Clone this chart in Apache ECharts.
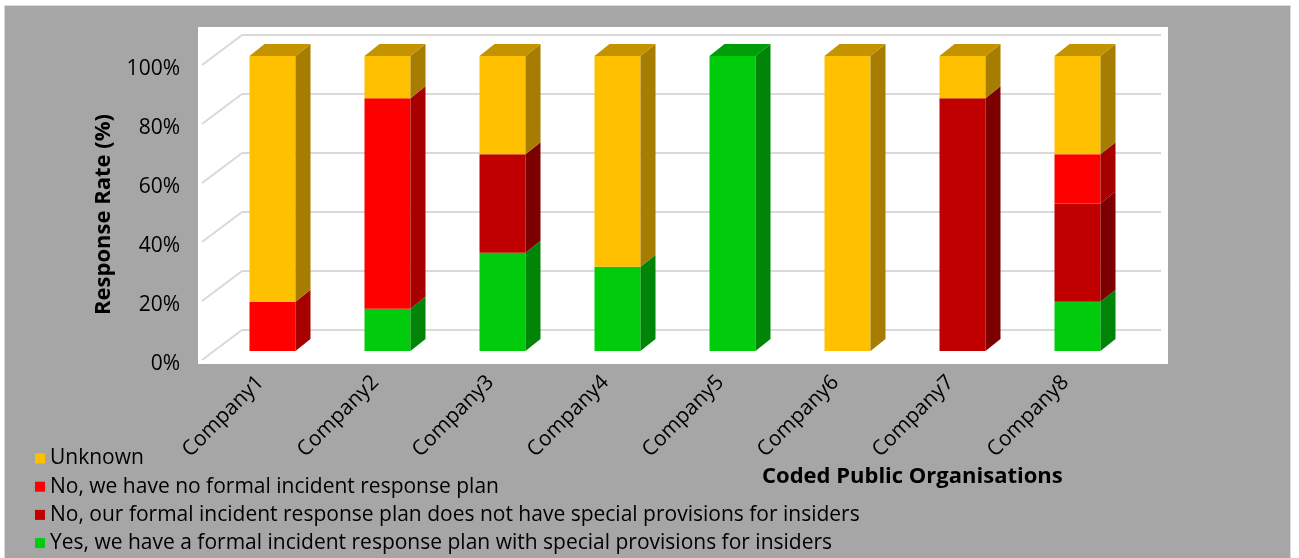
<!DOCTYPE html>
<html>
<head>
<meta charset="utf-8">
<script src="https://cdn.jsdelivr.net/npm/echarts@6/dist/echarts.min.js"></script>
<style>
  html, body { margin: 0; padding: 0; background: #fff; }
  #chart { width: 1299px; height: 558px; }
</style>
</head>
<body>
<div id="chart"></div>
<script>
const companies = ["Company1", "Company2", "Company3", "Company4", "Company5", "Company6", "Company7", "Company8"];
// stacked bottom -> top
const yesSpecial = [0, 14.29, 33.33, 28.57, 100, 0, 0, 16.67];
const noSpecial = [0, 0, 33.33, 0, 0, 0, 85.71, 33.33];
const noPlan = [16.67, 71.43, 0, 0, 0, 0, 0, 16.67];
const unknown = [83.33, 14.29, 33.33, 71.43, 0, 100, 14.29, 33.33];
const yTicks = [0, 20, 40, 60, 80, 100];

const seriesDefs = [
  { name: "Yes, we have a formal incident response plan with special provisions for insiders", values: yesSpecial, color: "#00cc0c" },
  { name: "No, our formal incident response plan does not have special provisions for insiders", values: noSpecial, color: "#c00000" },
  { name: "No, we have no formal incident response plan", values: noPlan, color: "#ff0000" },
  { name: "Unknown", values: unknown, color: "#ffc000" },
];
const legendOrder = [3, 2, 1, 0].map((i) => seriesDefs[i].name);

const font = "'Open Sans', 'Noto Sans', sans-serif";
const fs = 21;
const DX = 15, DY = 12;

function shade(hex, f) {
  const n = parseInt(hex.slice(1), 16);
  const r = Math.round(((n >> 16) & 255) * f);
  const g = Math.round(((n >> 8) & 255) * f);
  const b = Math.round((n & 255) * f);
  return `rgb(${r},${g},${b})`;
}

// running base for stacking
const base = companies.map(() => 0);
const barSeries = seriesDefs.map((def) => {
  const data = def.values.map((v, i) => {
    const lo = base[i];
    base[i] += v;
    return [i, lo, base[i]];
  });
  return {
    type: "custom",
    name: def.name,
    itemStyle: { color: def.color },
    data,
    encode: { x: 0, y: [1, 2] },
    renderItem: (params, api) => {
      const i = api.value(0), lo = api.value(1), hi = api.value(2);
      if (hi - lo <= 0.001) return;
      const band = api.size([1, 0])[0];
      const w = band * 0.4;
      const pLo = api.coord([i, lo]);
      const pHi = api.coord([i, hi]);
      const x0 = pLo[0] - w / 2, x1 = pLo[0] + w / 2;
      const children = [
        { type: "rect", shape: { x: x0, y: pHi[1], width: w, height: pLo[1] - pHi[1] }, style: { fill: def.color } },
        { type: "polygon", shape: { points: [[x1, pLo[1]], [x1, pHi[1]], [x1 + DX, pHi[1] - DY], [x1 + DX, pLo[1] - DY]] }, style: { fill: shade(def.color, 0.65) } },
      ];
      if (hi >= 99.9) {
        children.push({ type: "polygon", shape: { points: [[x0, pHi[1]], [x1, pHi[1]], [x1 + DX, pHi[1] - DY], [x0 + DX, pHi[1] - DY]] }, style: { fill: shade(def.color, 0.77) } });
      }
      return { type: "group", children };
    },
  };
});

const wallSeries = {
  type: "custom",
  name: "walls",
  silent: true,
  data: yTicks.map((v) => [0, v]),
  renderItem: (params, api) => {
    const v = api.value(1);
    const band = api.size([1, 0])[0];
    const p = api.coord([0, v]);
    const pEnd = api.coord([companies.length - 1, v]);
    const yBack = p[1] - 21;
    const xBack = p[0] - band * 0.265;
    const xRight = pEnd[0] + band * 0.726;
    const style = { stroke: "#d9d9d9", lineWidth: 2 };
    return {
      type: "group",
      children: [
        { type: "line", shape: { x1: xBack - 40, y1: yBack + 30, x2: xBack, y2: yBack }, style },
        { type: "line", shape: { x1: xBack, y1: yBack, x2: xRight, y2: yBack }, style },
      ],
    };
  },
};

const chart = echarts.init(document.getElementById("chart"));
chart.setOption({
  backgroundColor: "#fff",
  animation: false,
  textStyle: { fontFamily: font },
  graphic: [
    { type: "rect", z: -10, shape: { x: 4.5, y: 5.5, width: 1286, height: 560 }, style: { fill: "#a6a6a6", stroke: "#d9d9d9", lineWidth: 1 } },
    { type: "rect", z: -9, shape: { x: 198, y: 27, width: 970, height: 337 }, style: { fill: "#fff" } },
  ],
  title: {
    text: "Coded Public Organisations",
    left: 762,
    top: 466,
    padding: 0,
    textStyle: { fontFamily: font, fontSize: 22, fontWeight: "bold", color: "#000" },
  },
  legend: {
    data: legendOrder,
    orient: "vertical",
    left: 35,
    top: 448,
    padding: 0,
    itemGap: 7.2,
    itemWidth: 10,
    itemHeight: 10,
    icon: "rect",
    selectedMode: false,
    textStyle: { fontFamily: font, fontSize: fs, lineHeight: 20, color: "#000" },
  },
  grid: { left: 215, width: 920, top: 56, height: 295 },
  xAxis: {
    type: "category",
    data: companies,
    axisLine: { show: false },
    axisTick: { show: false },
    axisLabel: {
      interval: 0,
      rotate: 45,
      margin: 16,
      fontFamily: font,
      fontSize: fs,
      color: "#000",
      formatter: (v) => `{n|${v}}{s|}`,
      rich: { n: { fontFamily: font, fontSize: fs, color: "#000" }, s: { width: 17 } },
    },
  },
  yAxis: {
    type: "value",
    min: 0,
    max: 100,
    interval: 20,
    name: "{t|Response Rate (%)}{s|}",
    nameLocation: "middle",
    nameGap: 100,
    nameTextStyle: {
      fontFamily: font,
      fontSize: 22,
      fontWeight: "bold",
      color: "#000",
      rich: { t: { fontFamily: font, fontSize: 22, fontWeight: "bold", color: "#000" }, s: { width: 22 } },
    },
    axisLine: { show: false },
    axisTick: { show: false },
    splitLine: { show: false },
    axisLabel: { formatter: "{value}%", margin: 35, verticalAlign: "top", lineHeight: 26, fontFamily: font, fontSize: fs, color: "#000" },
  },
  series: [wallSeries, ...barSeries],
});
</script>
</body>
</html>
